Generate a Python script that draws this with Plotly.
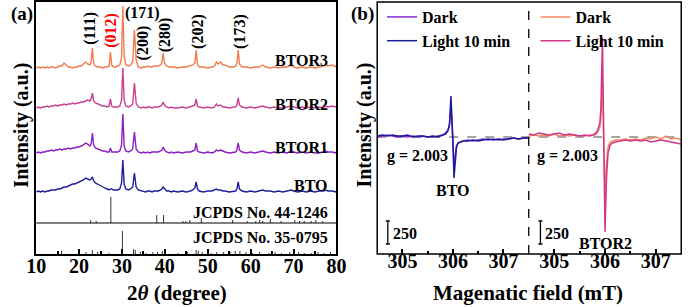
import plotly.graph_objects as go

FONT = "Liberation Serif"

# ---------------- (a) XRD data ----------------
two_theta = [
    10.0, 10.5, 11.0, 11.5, 12.0, 12.5, 13.0, 13.5, 14.0, 14.5,
    15.0, 15.5, 16.0, 16.5, 17.0, 17.5, 18.0, 18.5, 19.0, 19.5,
    20.0, 20.5, 21.0, 21.5, 22.0, 22.5, 22.8, 23.1, 23.4, 23.8,
    24.3, 25.0, 25.5, 26.0, 26.5, 27.0, 27.3, 27.6, 28.0, 28.5,
    29.0, 29.5, 29.9, 30.2, 30.5, 30.9, 31.5, 32.0, 32.5, 32.9,
    33.3, 33.8, 34.5, 35.0, 35.5, 36.0, 36.5, 37.0, 37.5, 38.0,
    38.5, 39.0, 39.3, 39.6, 39.9, 40.4, 41.0, 41.5, 42.0, 43.0,
    44.0, 45.0, 46.0, 46.5, 47.0, 47.3, 47.6, 48.0, 49.0, 50.0,
    51.0, 51.6, 52.0, 52.4, 53.0, 53.5, 54.0, 55.0, 56.0, 56.5,
    56.8, 57.1, 57.4, 58.0, 59.0, 60.0, 61.0, 62.0, 62.8, 63.5,
    64.5, 65.5, 66.5, 67.5, 68.5, 69.0, 69.5, 70.0, 71.0, 72.0,
    73.0, 74.0, 75.0, 76.0, 77.0, 77.5, 78.0, 79.0, 80.0,
]

btor3 = [
    0, 1, 0, 1, 0, 1, 0, 1, 1, 0,
    1, 2, 2, 5, 3, 1, 1, 0, 1, 1,
    2, 2, 4, 6, 4, 3, 6, 20, 5, 2,
    1, 1, 0, 1, 1, 2, 16, 3, 1, 1,
    2, 3, 10, 62, 12, 3, 2, 3, 6, 38,
    8, 1, 0, 1, 1, 2, 1, 1, 2, 2,
    2, 3, 5, 15, 5, 2, 1, 1, 1, 0,
    1, 1, 2, 3, 5, 18, 4, 1, 1, 0,
    1, 2, 6, 4, 6, 3, 3, 1, 1, 2,
    5, 18, 4, 1, 1, 0, 1, 1, 3, 1,
    0, 1, 0, 1, 1, 2, 3, 1, 0, 1,
    0, 1, 0, 1, 2, 4, 2, 3, 1,
]
btor2 = [
    0, 1, 0, 1, 1, 2, 1, 2, 2, 3,
    2, 3, 3, 4, 3, 4, 4, 5, 4, 5,
    5, 6, 6, 7, 8, 7, 9, 15, 7, 5,
    4, 3, 2, 2, 1, 2, 9, 2, 1, 1,
    1, 2, 8, 40, 8, 2, 1, 2, 4, 25,
    5, 1, 0, 1, 0, 1, 1, 0, 1, 1,
    1, 2, 3, 6, 3, 1, 0, 1, 0, 0,
    1, 0, 1, 2, 3, 9, 2, 1, 0, 1,
    0, 1, 4, 2, 3, 1, 1, 0, 1, 1,
    3, 10, 3, 1, 0, 1, 0, 1, 2, 1,
    0, 1, 0, 0, 1, 1, 2, 1, 0, 1,
    0, 1, 0, 1, 0, 2, 1, 2, 1,
]
btor1 = [
    0, 1, 0, 1, 1, 2, 2, 3, 2, 3,
    3, 4, 3, 4, 4, 5, 4, 5, 5, 6,
    6, 7, 8, 10, 9, 7, 9, 20, 8, 5,
    4, 3, 2, 2, 1, 1, 5, 1, 1, 1,
    1, 2, 8, 39, 7, 2, 1, 2, 4, 21,
    4, 1, 0, 1, 0, 1, 0, 1, 1, 1,
    1, 2, 3, 6, 3, 1, 0, 1, 0, 1,
    0, 1, 1, 2, 3, 10, 2, 1, 0, 1,
    0, 1, 3, 2, 3, 2, 1, 0, 1, 1,
    3, 10, 3, 1, 0, 1, 0, 1, 2, 1,
    0, 1, 0, 1, 0, 1, 2, 1, 0, 1,
    0, 1, 0, 0, 1, 2, 1, 1, 0,
]
bto = [
    0, 1, 0, 1, 0, 1, 1, 2, 2, 2,
    3, 3, 4, 5, 5, 6, 7, 8, 8, 9,
    10, 11, 12, 14, 13, 12, 13, 15, 11, 9,
    8, 6, 5, 4, 3, 2, 3, 3, 2, 2,
    2, 3, 9, 32, 8, 3, 2, 3, 5, 19,
    5, 2, 1, 1, 0, 1, 1, 0, 1, 1,
    1, 2, 3, 5, 3, 1, 1, 0, 1, 0,
    1, 0, 1, 2, 4, 10, 3, 1, 0, 1,
    1, 2, 3, 2, 2, 1, 1, 0, 1, 1,
    3, 10, 3, 1, 0, 1, 0, 1, 2, 1,
    1, 0, 1, 0, 1, 1, 2, 1, 0, 1,
    0, 1, 0, 1, 1, 2, 1, 1, 0,
]

# reference patterns (stick positions, stick heights)
jcpds_44_pos = [22.7, 24.0, 27.4, 38.1, 39.7, 44.2, 44.9, 45.8, 48.5, 55.8,
                59.2, 61.2, 62.1, 62.8, 64.6, 67.1, 70.3, 71.4, 72.5, 74.1, 75.2, 76.8]
jcpds_44_h = [3, 2, 26, 8, 8, 2, 2, 3, 5, 3,
              2, 2, 3, 2, 4, 2, 3, 2, 2, 2, 3, 2]
jcpds_35_pos = [15.9, 21.6, 23.1, 24.3, 27.0, 30.1, 32.7, 33.1, 34.3, 35.6, 37.2, 38.3,
                39.4, 43.1, 45.3, 47.3, 47.8, 48.7, 50.8, 52.1, 53.7, 55.2, 56.4, 57.5,
                58.9, 60.4, 62.1, 64.3, 65.7, 67.2, 69.1, 71.2, 72.5, 74.1, 75.7, 77.1, 78.6]
jcpds_35_h = [3, 2, 4, 2, 1, 23, 5, 4, 2, 1, 2, 2,
              3, 1, 2, 4, 3, 2, 1, 2, 2, 2, 3, 3,
              2, 1, 2, 1, 2, 1, 2, 2, 1, 1, 2, 1, 2]

xrd_names = ["BTOR3", "BTOR2", "BTOR1", "BTO"]
xrd_series = [btor3, btor2, btor1, bto]
xrd_offsets = [186, 146, 101, 62]
xrd_colors = ["#F07C50", "#C94193", "#8B1FC4", "#1F1F99"]
jcpds_offsets = [31, 0]

# ---------------- (b) EPR data ----------------
field_bto = [304.5, 304.6, 304.7, 304.8, 304.9, 305.0, 305.1, 305.2, 305.3, 305.4,
             305.5, 305.6, 305.7, 305.8, 305.85, 305.9, 305.93, 305.96, 305.98, 306.0,
             306.02, 306.04, 306.07, 306.1, 306.15, 306.2, 306.3, 306.4, 306.5, 306.6,
             306.7, 306.8, 306.9, 307.0, 307.1, 307.2, 307.3, 307.4, 307.5]
bto_dark = [0, 1, 2, 1, 0, 1, 0, 1, 0, 1,
            0, 0, 1, 2, 4, 7, 12, 28, 15, -3,
            -30, -20, -9, -6, -5, -4, -3, -4, -3, -2,
            -3, -2, -3, -2, -2, -1, -2, -1, -1]
bto_light = [1, 2, 1, 2, 1, 1, 2, 0, 1, 1,
             0, 1, 0, 2, 3, 6, 12, 41, 20, -5,
             -41, -25, -10, -6, -5, -4, -4, -3, -4, -3,
             -2, -3, -2, -3, -2, -1, -2, -1, -1]

field_btor2 = [304.5, 304.6, 304.7, 304.8, 304.9, 305.0, 305.1, 305.2, 305.3, 305.4,
               305.5, 305.6, 305.7, 305.8, 305.85, 305.9, 305.92, 305.95, 305.97, 306.0,
               306.03, 306.06, 306.1, 306.15, 306.2, 306.3, 306.4, 306.5, 306.6, 306.7,
               306.8, 306.9, 307.0, 307.1, 307.2, 307.3, 307.4, 307.5]
btor2_dark = [1, 2, 1, 2, 1, 3, 1, 2, 1, 2,
              1, 1, 2, 2, 4, 10, 20, 55, 5, -58,
              -25, -10, -5, -4, -3, -3, -2, -3, -2, -3,
              -1, -2, 0, -2, 1, -2, -1, -3]
btor2_light = [3, 2, 4, 3, 2, 3, 4, 2, 3, 2,
               1, 2, 1, 3, 6, 14, 30, 99, 10, -95,
               -40, -16, -8, -6, -5, -4, -3, -4, -3, -4,
               -3, -5, -4, -3, -4, -5, -6, -7]

epr_colors = {"bto_dark": "#8B2BD0", "bto_light": "#1A1A9A",
              "btor2_dark": "#F58A5C", "btor2_light": "#D2358A"}

# ---------------- figure ----------------
W, H = 700, 307
def px_x(p):
    return p / W
def px_y(p):
    return 1 - p / H

fig = go.Figure()

for name, vals, off, col in zip(xrd_names, xrd_series, xrd_offsets, xrd_colors):
    fig.add_trace(go.Scatter(x=two_theta, y=[v + off for v in vals], mode="lines",
                             line=dict(color=col, width=1.4), name=name,
                             showlegend=False, xaxis="x", yaxis="y"))

for pos, hts, off in [(jcpds_44_pos, jcpds_44_h, jcpds_offsets[0]),
                      (jcpds_35_pos, jcpds_35_h, jcpds_offsets[1])]:
    xs, ys = [], []
    for p, h in zip(pos, hts):
        xs += [p, p, None]
        ys += [off, off + h, None]
    fig.add_trace(go.Scatter(x=xs, y=ys, mode="lines", line=dict(color="#333333", width=1),
                             showlegend=False, xaxis="x", yaxis="y"))

fig.add_trace(go.Scatter(x=field_bto, y=bto_dark, mode="lines", name="Dark",
                         line=dict(color=epr_colors["bto_dark"], width=1.5),
                         xaxis="x2", yaxis="y2", legend="legend"))
fig.add_trace(go.Scatter(x=field_bto, y=bto_light, mode="lines", name="Light 10 min",
                         line=dict(color=epr_colors["bto_light"], width=1.5),
                         xaxis="x2", yaxis="y2", legend="legend"))
fig.add_trace(go.Scatter(x=field_btor2, y=btor2_dark, mode="lines", name="Dark",
                         line=dict(color=epr_colors["btor2_dark"], width=1.5),
                         xaxis="x3", yaxis="y2", legend="legend2"))
fig.add_trace(go.Scatter(x=field_btor2, y=btor2_light, mode="lines", name="Light 10 min",
                         line=dict(color=epr_colors["btor2_light"], width=1.5),
                         xaxis="x3", yaxis="y2", legend="legend2"))

tickfont = dict(family=FONT, size=20, color="black", weight="bold")
ydom = [px_y(254), px_y(2)]

common_x = dict(showgrid=False, zeroline=False, ticks="inside", ticklen=5, tickwidth=1.5,
                tickcolor="black", tickfont=tickfont, linecolor="black", linewidth=1.5,
                ticklabelstandoff=-7)

fig.update_layout(
    width=W, height=H, margin=dict(l=0, r=0, t=0, b=0), autosize=False,
    paper_bgcolor="white", plot_bgcolor="white",
    xaxis=dict(domain=[px_x(27), px_x(336)], range=[10, 80], tickvals=[10, 20, 30, 40, 50, 60, 70, 80],
               showline=True, mirror=True, anchor="y",
               minor=dict(ticks="inside", dtick=5, ticklen=3, tickcolor="black"), **common_x),
    yaxis=dict(domain=ydom, range=[0, 252], showticklabels=False, ticks="", showgrid=False,
               zeroline=False, showline=True, mirror=True, linecolor="black", linewidth=1.5,
               anchor="x"),
    xaxis2=dict(domain=[px_x(378), px_x(534)], range=[304.5, 307.5], tickvals=[305, 306, 307],
                showline=False, anchor="y2",
                minor=dict(ticks="inside", dtick=0.5, ticklen=3, tickcolor="black"), **common_x),
    xaxis3=dict(domain=[px_x(534), px_x(691)], range=[304.5, 307.5], tickvals=[305, 306, 307],
                showline=False, anchor="y2",
                minor=dict(ticks="inside", dtick=0.5, ticklen=3, tickcolor="black"), **common_x),
    yaxis2=dict(domain=ydom, range=[-117, 135], showticklabels=False, ticks="", showgrid=False,
                zeroline=False, showline=False, anchor="x2"),
    legend=dict(x=px_x(383), y=1.0, xanchor="left", yanchor="top", bgcolor="rgba(0,0,0,0)",
                font=dict(family=FONT, size=16, color="black", weight="bold"), tracegroupgap=0),
    legend2=dict(x=px_x(541), y=1.0, xanchor="left", yanchor="top", bgcolor="rgba(0,0,0,0)",
                 font=dict(family=FONT, size=16, color="black", weight="bold"), tracegroupgap=0),
    showlegend=True,
)

# shapes
shapes = [
    dict(type="line", xref="x domain", x0=0, x1=1, yref="y", y0=jcpds_offsets[0], y1=jcpds_offsets[0],
         line=dict(color="black", width=1)),
    dict(type="line", xref="paper", x0=px_x(378), x1=px_x(691), yref="y2", y0=0, y1=0,
         line=dict(color="#888888", width=1.3, dash="dash"), layer="below"),
    dict(type="line", xref="paper", x0=px_x(534), x1=px_x(534), yref="paper", y0=ydom[0], y1=ydom[1],
         line=dict(color="black", width=1.3, dash="dash")),
    dict(type="rect", xref="paper", x0=px_x(378), x1=px_x(691), yref="paper", y0=ydom[0], y1=ydom[1],
         line=dict(color="black", width=1.5)),
]
for xr, xb in [("x2", 304.71), ("x3", 304.73)]:
    shapes.append(dict(type="line", xref=xr, x0=xb, x1=xb, yref="y2", y0=-84, y1=-107,
                       line=dict(color="black", width=1.3)))
    for yc in (-84, -107):
        shapes.append(dict(type="line", xref=xr, x0=xb - 0.04, x1=xb + 0.04, yref="y2", y0=yc, y1=yc,
                           line=dict(color="black", width=1.3)))
fig.update_layout(shapes=shapes)

# annotations
def txt(text, x, y, xref, yref, size=16, color="black", angle=0, xanchor="center"):
    return dict(text="<b>" + text + "</b>", x=x, y=y, xref=xref, yref=yref, showarrow=False,
                textangle=angle, xanchor=xanchor, yanchor="middle",
                font=dict(family=FONT, size=size, color=color))

ann = [
    txt("(111)", 22.5, 226, "x", "y", angle=-90),
    txt("(012)", 27.4, 224, "x", "y", angle=-90, color="red"),
    txt("(171)", 34.7, 241, "x", "y"),
    txt("(200)", 35.0, 211, "x", "y", angle=-90),
    txt("(280)", 40.1, 219, "x", "y", angle=-90),
    txt("(202)", 47.7, 223, "x", "y", angle=-90),
    txt("(173)", 57.5, 223, "x", "y", angle=-90),
    txt("BTOR3", 78.6, 194, "x", "y", xanchor="right"),
    txt("BTOR2", 78.6, 150, "x", "y", xanchor="right"),
    txt("BTOR1", 78.6, 107, "x", "y", xanchor="right"),
    txt("BTO", 78.6, 69, "x", "y", xanchor="right"),
    txt("JCPDS No. 44-1246", 78.6, 42, "x", "y", xanchor="right"),
    txt("JCPDS No. 35-0795", 78.6, 17, "x", "y", xanchor="right"),
    txt("g = 2.003", 305.29, -19, "x2", "y2"),
    txt("g = 2.003", 305.27, -19, "x3", "y2"),
    txt("BTO", 306.0, -53, "x2", "y2"),
    txt("BTOR2", 306.0, -106, "x3", "y2"),
    txt("250", 305.06, -96, "x2", "y2"),
    txt("250", 305.06, -96, "x3", "y2"),
    txt("(a)", px_x(12), px_y(14), "paper", "paper", size=19),
    txt("(b)", px_x(363), px_y(14), "paper", "paper", size=19),
    txt("Intensity (a.u.)", px_x(12), px_y(125), "paper", "paper", size=20, angle=-90),
    txt("Intensity (a.u.)", px_x(365), px_y(125), "paper", "paper", size=20, angle=-90),
    txt("2<i>θ</i> (degree)", px_x(172), px_y(293), "paper", "paper", size=21),
    txt("Magenatic field (mT)", px_x(533), px_y(293), "paper", "paper", size=21),
]
fig.update_layout(annotations=ann)

fig.write_html("out.html", config={"displayModeBar": False},
               post_script="document.body.style.margin='0';document.body.style.overflow='hidden';")
